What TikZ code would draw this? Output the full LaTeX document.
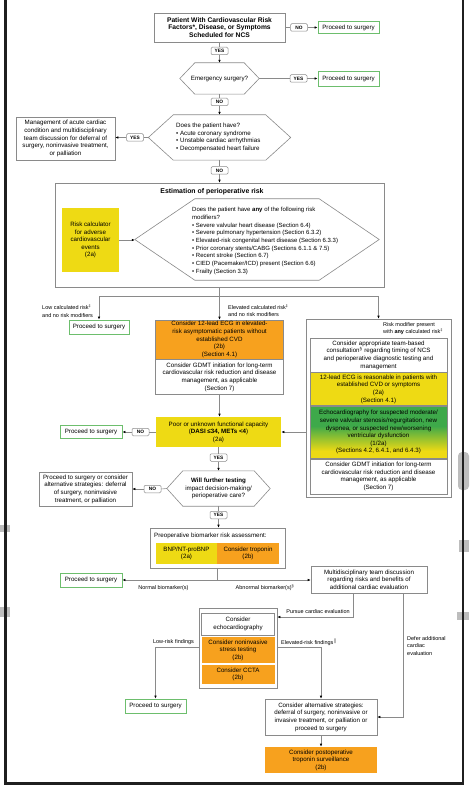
\documentclass[tikz,border=0pt]{standalone}
\usepackage{fontspec}
\setmainfont{Liberation Sans}
\usetikzlibrary{arrows.meta,calc}
\definecolor{lgray}{HTML}{8A8A8A}
\definecolor{pgreen}{HTML}{6DBE6D}
\definecolor{yl}{HTML}{EEDA14}
\definecolor{org}{HTML}{F7A11E}
\definecolor{gr}{HTML}{3EA94A}
\definecolor{smudge}{HTML}{BDBDBD}
\pgfdeclareverticalshading{gy}{100bp}{color(0bp)=(yl); color(32bp)=(yl); color(56bp)=(gr); color(100bp)=(gr)}
\newcommand{\fA}{\fontsize{6.2}{7.6}\selectfont}
\newcommand{\fS}{\fontsize{5.5}{7.6}\selectfont}
\newcommand{\fH}{\fontsize{6}{7.7}\selectfont}
\newcommand{\hexdraw}[2]{\draw[ln] (#1.west) -- ([xshift=#2pt]#1.north west) -- ([xshift=-#2pt]#1.north east) -- (#1.east) -- ([xshift=-#2pt]#1.south east) -- ([xshift=#2pt]#1.south west) -- cycle;}
\tikzset{
 sz/.style 2 args={minimum width=#1pt, minimum height=#2pt},
 box/.style={draw=lgray, line width=0.6pt, fill=white, inner sep=0pt, align=center, font=\fA},
 proc/.style={box, draw=pgreen, line width=0.8pt},
 ybox/.style={box, fill=yl, draw=none},
 obox/.style={box, fill=org, draw=none},
 lbl/.style={draw=lgray, line width=0.5pt, rounded corners=1.2pt, fill=white, inner sep=0pt, minimum width=17pt, minimum height=7.5pt, font=\fontsize{4.8}{5}\selectfont\bfseries},
 ln/.style={draw=lgray, line width=0.6pt},
 arr/.style={ln, -{Latex[length=3pt,width=2.6pt,color=black]}},
 smalllbl/.style={inner sep=0pt, font=\fS, align=left},
}
\begin{document}
\begin{tikzpicture}[x=1pt,y=-1pt]
\useasboundingbox (0,0) rectangle (469,794);
% background smudges at the page edges
\fill[smudge] (0,525) rectangle (10,532);
\fill[smudge] (0,607) rectangle (10,617);
\fill[smudge] (457,612) rectangle (469,620);
\fill[smudge] (459,540) rectangle (469,552);
\fill[smudge, rounded corners=4pt] (458,452) rectangle (469,490);
\draw[line width=2.8pt, black!88] (5.3,-5) -- (5.3,783.3) -- (463,783.3) -- (463,-5);

% top
\node[box, font=\fontsize{6.7}{7.7}\selectfont\bfseries, sz={131}{29}] (n1) at (219.5,27.5) {Patient With Cardiovascular Risk\\Factors*, Disease, or Symptoms\\Scheduled for NCS};
\node[lbl] (no1) at (299,27.5) {NO};
\node[proc, sz={61}{12}] (p1) at (348.5,27.5) {Proceed to surgery};
\draw[ln] (n1.east) -- (no1.west);
\draw[arr] (no1.east) -- (p1.west);

\node[lbl] (yes1) at (219.5,51) {YES};
\node[sz={79}{31}, inner sep=0pt, font=\fA] (h1) at (219.5,78.5) {Emergency surgery?};
\hexdraw{h1}{15}
\draw[ln] (n1.south) -- (yes1.north);
\draw[arr] (yes1.south) -- (h1.north);
\node[lbl] (yes2) at (298.5,78.5) {YES};
\node[proc, sz={61}{15}] (p2) at (348.5,78.5) {Proceed to surgery};
\draw[ln] (h1.east) -- (yes2.west);
\draw[arr] (yes2.east) -- (p2.west);

\node[lbl] (no2) at (219.5,102) {NO};
\node[sz={142}{45}, inner sep=0pt] (h2) at (219.5,137.5) {};
\hexdraw{h2}{25}
\node[anchor=west, align=left, inner sep=0pt, font=\fA] (h2t) at (176,137.5) {Does the patient have?\\• Acute coronary syndrome\\• Unstable cardiac arrhythmias\\• Decompensated heart failure};
\draw[ln] (h1.south) -- (no2.north);
\draw[arr] (no2.south) -- (h2.north);
\node[lbl] (yes3) at (135,137.5) {YES};
\node[box, sz={99}{43}] (m1) at (65.5,138.5) {Management of acute cardiac\\condition and multidisciplinary\\team discussion for deferral of\\surgery, noninvasive treatment,\\or palliation};
\draw[ln] (h2.west) -- (yes3.east);
\draw[arr] (yes3.west) -- (yes3.west -| m1.east);

\node[lbl] (no3) at (219.5,170.5) {NO};
\node[box, sz={329}{104}] (est) at (219.5,235) {};
\draw[ln] (h2.south) -- (no3.north);
\draw[arr] (no3.south) -- (est.north);
\node[inner sep=0pt, font=\fontsize{6.9}{7}\selectfont\bfseries] (estt) at (212,192) {Estimation of perioperative risk};
\node[ybox, sz={57}{64}] (rc) at (90.5,240) {Risk calculator\\for adverse\\cardiovascular\\events\\(2a)};
\node[sz={244}{81}, inner sep=0pt] (h3) at (257,239.5) {};
\hexdraw{h3}{60}
\node[anchor=west, align=left, inner sep=0pt, font=\fH] (h3t) at (192,241) {Does the patient have \textbf{any} of the following risk\\modifiers?\\• Severe valvular heart disease (Section 6.4)\\• Severe pulmonary hypertension (Section 6.3.2)\\• Elevated-risk congenital heart disease (Section 6.3.3)\\• Prior coronary stents/CABG (Sections 6.1.1 \& 7.5)\\• Recent stroke (Section 6.7)\\• CIED (Pacemaker/ICD) present (Section 6.6)\\• Frailty (Section 3.3)};
\draw[arr] (rc.east) -- (rc.east -| h3.west);

% three branches
\node[proc, sz={60}{14}] (p3) at (99,327) {Proceed to surgery};
\node[obox, draw=lgray, sz={128}{39}] (ecg) at (219.5,339.5) {Consider 12-lead ECG in elevated-\\risk asymptomatic patients without\\established CVD\\(2b)\\(Section 4.1)};
\node[box, sz={128}{35}, anchor=north] (gd1) at (ecg.south) {Consider GDMT initiation for long-term\\cardiovascular risk reduction and disease\\management, as applicable\\(Section 7)};
\node[box, sz={145}{178}] (rp) at (378.5,408) {};
\coordinate (jL) at (99,296);
\coordinate (jR) at (378.5,296);
\draw[ln] (jL) -- (jR);
\draw[arr] (est.south) -- (ecg.north);
\draw[arr] (jL) -- (p3.north);
\draw[arr] (jR) -- (rp.north);
\node[smalllbl, anchor=west] (lab1) at (42,311) {Low calculated risk\textsuperscript{‡}\\and no risk modifiers};
\node[smalllbl, anchor=west] (lab2) at (228,310.5) {Elevated calculated risk\textsuperscript{‡}\\and no risk modifiers};
\node[smalllbl, anchor=west] (lab3) at (383,328.5) {Risk modifier present\\with \textbf{any} calculated risk\textsuperscript{‡}};
\node[box, sz={137}{34}] (rA) at (378.5,355) {Consider appropriate team-based\\consultation\textsuperscript{§} regarding timing of NCS\\and perioperative diagnostic testing and\\management};
\node[ybox, draw=lgray, sz={137}{33}, anchor=north] (rB) at (rA.south) {12-lead ECG is reasonable in patients with\\established CVD or symptoms\\(2a)\\(Section 4.1)};
\node[box, draw=lgray, shade, shading=gy, sz={137}{52}, anchor=north] (rC) at (rB.south) {Echocardiography for suspected moderate/\\severe valvular stenosis/regurgitation, new\\dyspnea, or suspected new/worsening\\ventricular dysfunction\\(1/2a)\\(Sections 4.2, 6.4.1, and 6.4.3)};
\node[box, sz={137}{35}, anchor=north] (rD) at (rC.south) {Consider GDMT initiation for long-term\\cardiovascular risk reduction and disease\\management, as applicable\\(Section 7)};

% functional capacity
\node[ybox, sz={125}{30}] (fc) at (218.5,432) {Poor or unknown functional capacity\\(\textbf{DASI ≤34, METs <4})\\(2a)};
\draw[arr] (gd1.south) -- (gd1.south |- fc.north);
\draw[arr] (fc.east -| rp.west) -- (fc.east);
\node[lbl] (no4) at (140.5,432) {NO};
\node[proc, sz={62}{13}] (p4) at (91,432) {Proceed to surgery};
\draw[ln] (fc.west) -- (no4.east);
\draw[arr] (no4.west) -- (p4.east);

\node[lbl] (yes4) at (218.5,457.5) {YES};
\node[sz={103}{35}, inner sep=0pt, font=\fA, align=center] (h4) at (218.5,488.5) {\textbf{Will further testing}\\impact decision-making/\\perioperative care?};
\hexdraw{h4}{16}
\draw[ln] (fc.south) -- (yes4.north);
\draw[arr] (yes4.south) -- (h4.north);
\node[lbl] (no5) at (152.5,489) {NO};
\node[box, sz={93}{34}] (a1) at (85.5,489) {Proceed to surgery or consider\\alternative strategies: deferral\\of surgery, noninvasive\\treatment, or palliation};
\draw[ln] (h4.west) -- (no5.east);
\draw[arr] (no5.west) -- (no5.west -| a1.east);

\node[lbl] (yes5) at (218.5,515) {YES};
\node[box, sz={135}{40}] (bio) at (217.5,548) {};
\draw[ln] (h4.south) -- (yes5.north);
\draw[arr] (yes5.south) -- (yes5.south |- bio.north);
\node[anchor=west, inner sep=0pt, font=\fA] (biot) at (154,536) {Preoperative biomarker risk assessment:};
\node[ybox, sz={61}{21}] (bnp) at (186.5,553.5) {BNP/NT-proBNP\\(2a)};
\node[obox, sz={62}{21}] (trop) at (248,553.5) {Consider troponin\\(2b)};

\coordinate (j2) at (217.5,580);
\node[proc, sz={62}{14}] (p5) at (91,580) {Proceed to surgery};
\node[box, sz={116}{27}] (md) at (369,579.5) {Multidisciplinary team discussion\\regarding risks and benefits of\\additional cardiac evaluation};
\draw[ln] (bio.south) -- (j2);
\draw[arr] (j2) -- (p5.east);
\draw[arr] (j2) -- (j2 -| md.west);
\node[smalllbl] (lab4) at (163.5,588) {Normal biomarker(s)};
\node[smalllbl] (lab5) at (265,588) {Abnormal biomarker(s)\textsuperscript{§}};

% cardiac evaluation
\node[box, sz={78}{80}] (eg) at (238,648) {};
\node[box, sz={73}{22}] (e1) at (238,624) {Consider\\echocardiography};
\node[obox, sz={73}{26}] (e2) at (238,650) {Consider noninvasive\\stress testing\\(2b)};
\node[obox, sz={73}{19}] (e3) at (238,674.5) {Consider CCTA\\(2b)};
\coordinate (c1) at (353,617);
\draw[arr] (c1 |- md.south) -- (c1) -- (c1 -| eg.east);
\node[smalllbl] (lab6) at (318,612) {Pursue cardiac evaluation};

\node[proc, sz={61}{14}] (p6) at (155.5,706) {Proceed to surgery};
\coordinate (c2) at (155.5,647);
\draw[arr] (c2 -| eg.west) -- (c2) -- (p6.north);
\node[smalllbl] (lab7) at (173.5,642) {Low-risk findings};

\node[box, sz={112}{36}] (alt) at (321,717) {Consider alternative strategies:\\deferral of surgery, noninvasive or\\invasive treatment, or palliation or\\proceed to surgery};
\coordinate (c3) at (321,647);
\draw[arr] (c3 -| eg.east) -- (c3) -- (alt.north);
\node[smalllbl, anchor=west] (lab8) at (281,642) {Elevated-risk findings$^{\|}$};

\coordinate (c4) at (403,717);
\draw[arr] (c4 |- md.south) -- (c4) -- (alt.east);
\node[smalllbl, anchor=north west] (lab9) at (407,636) {Defer additional\\cardiac\\evaluation};

\node[obox, sz={112}{26}] (post) at (321,760) {Consider postoperative\\troponin surveillance\\(2b)};
\draw[arr] (alt.south) -- (post.north);
\end{tikzpicture}
\end{document}
